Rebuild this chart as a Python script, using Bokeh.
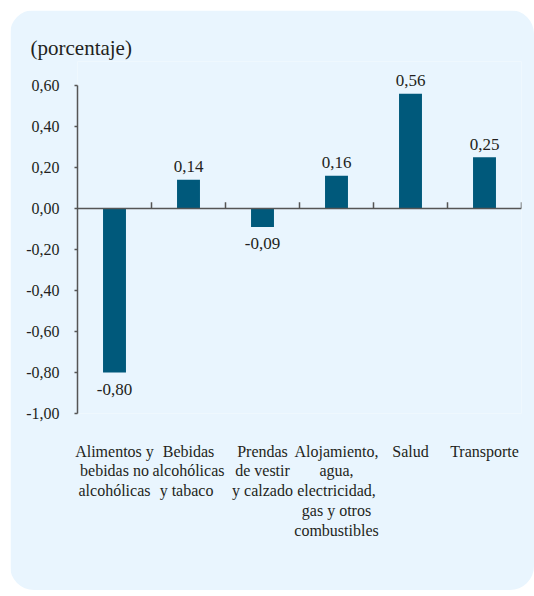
from bokeh.plotting import figure
from bokeh.models import FactorRange, Range1d, FixedTicker, CustomJSTickFormatter, Span, LabelSet, ColumnDataSource
from bokeh.embed import file_html
from bokeh.resources import INLINE

categories = [
    "Alimentos y\nbebidas no\nalcohólicas",
    "Bebidas\nalcohólicas\ny  tabaco",
    "Prendas\nde vestir\ny calzado",
    "Alojamiento,\nagua,\nelectricidad,\ngas y otros\ncombustibles",
    "Salud",
    "Transporte",
]
values = [-0.80, 0.14, -0.09, 0.16, 0.56, 0.25]
y_ticks = [-1.0, -0.8, -0.6, -0.4, -0.2, 0.0, 0.2, 0.4, 0.6]
y_title = "(porcentaje)"

BG = "#E9F5FE"
BAR = "#00597B"
TXT = "#231F20"
AX = "#555555"
FONT = "Liberation Serif"

p = figure(
    x_range=FactorRange(*categories, range_padding=0),
    y_range=Range1d(-1.0, 0.717),
    width=524, height=580,
    output_backend="svg", toolbar_location=None,
    min_border_left=67, min_border_right=13, min_border_top=51, min_border_bottom=177,
    background_fill_color=BG, border_fill_color=BG, outline_line_color=None,
)
p.margin = (10, 0, 0, 10)
p.styles = {"border-radius": "24px", "overflow": "hidden"}

p.title.text = y_title
p.title.align = "left"
p.title.offset = -47
p.title.standoff = 3
p.title.text_font = FONT
p.title.text_font_size = "21px"
p.title.text_font_style = "normal"
p.title.text_color = TXT

p.xgrid.grid_line_color = None
p.ygrid.grid_line_color = None

labels = [("%.2f" % v).replace(".", ",") for v in values]
offsets = [13 if v >= 0 else -17 for v in values]
src = ColumnDataSource(dict(x=categories, top=values, lab=labels, off=offsets))

p.vbar(x="x", top="top", bottom=0, width=0.31, source=src, fill_color=BAR, line_color=None)

p.add_layout(LabelSet(x="x", y="top", text="lab", y_offset="off", source=src,
                      text_align="center", text_baseline="middle",
                      text_font=FONT, text_font_size="17px", text_color=TXT))

# zero line with category boundary ticks
p.add_layout(Span(location=0, dimension="width", line_color=AX, line_width=1.5))
bounds = list(range(1, len(categories) + 1))
p.segment(x0=bounds, y0=[0] * len(bounds), x1=bounds, y1=[0.03] * len(bounds),
          line_color=AX, line_width=1.5)

# y axis
ya = p.yaxis[0]
ya.ticker = FixedTicker(ticks=y_ticks)
ya.bounds = (-1.0, 0.6)
ya.formatter = CustomJSTickFormatter(code="return tick.toFixed(2).replace('.', ',');")
ya.axis_line_color = AX
ya.axis_line_width = 1.5
ya.major_tick_line_color = AX
ya.major_tick_line_width = 1.5
ya.major_tick_out = 3
ya.major_tick_in = 0
ya.minor_tick_line_color = None
ya.major_label_text_font = "Times New Roman"
ya.major_label_text_font_style = "normal"
ya.major_label_text_font_size = "16px"
ya.major_label_text_color = TXT
ya.major_label_standoff = 15

# x axis (category labels)
xa = p.xaxis[0]
xa.axis_line_color = None
xa.major_tick_line_color = None
xa.minor_tick_line_color = None
xa.major_tick_out = 0
xa.major_tick_in = 0
xa.major_label_standoff = 29
xa.major_label_text_font = "serif"
xa.major_label_text_font_style = "normal"
xa.major_label_text_font_size = "16px"
xa.major_label_text_color = TXT
xa.major_label_text_line_height = 1.17
xa.major_label_orientation = "horizontal"

open("out.html", "w").write(file_html(p, INLINE))
